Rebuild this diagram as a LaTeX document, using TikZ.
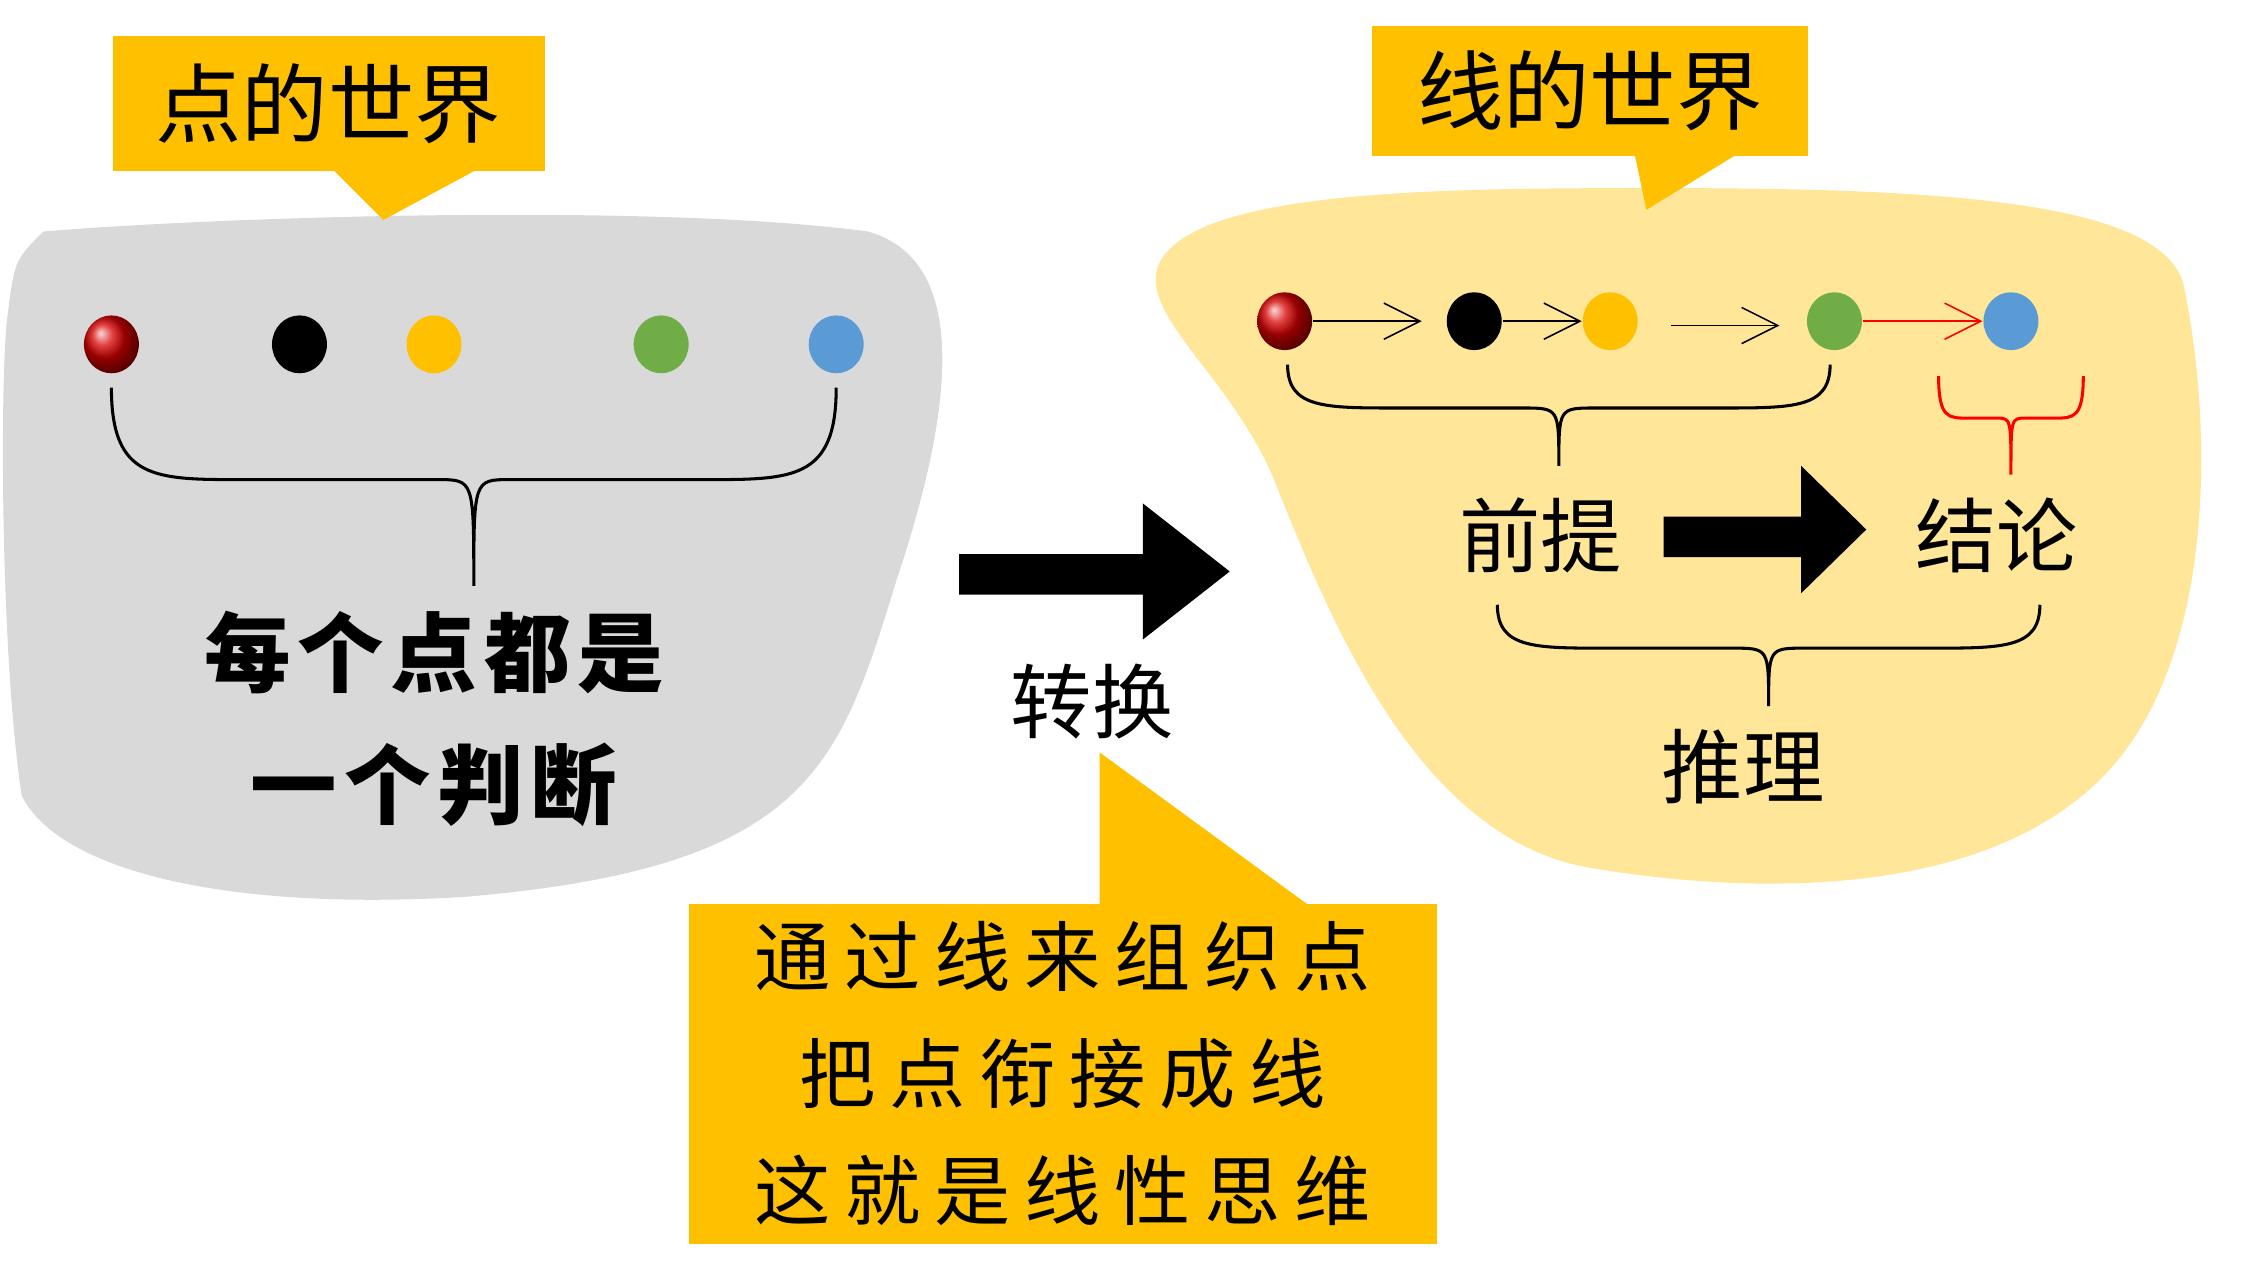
\documentclass[tikz,border=0pt]{standalone}
\usepackage{fontspec}
\setmainfont{Noto Sans CJK SC}
\newfontfamily\cjk{Noto Sans CJK SC}
\newfontfamily\cjkwide[LetterSpace=18]{Noto Sans CJK SC}
\newfontfamily\cjkbold[LetterSpace=8]{Noto Sans CJK SC}
\usetikzlibrary{positioning,arrows.meta,shapes.geometric}

\definecolor{callout}{RGB}{255,192,0}
\definecolor{blobgray}{RGB}{217,217,217}
\definecolor{blobyellow}{RGB}{255,230,153}
\definecolor{dotgreen}{RGB}{112,173,71}
\definecolor{dotblue}{RGB}{91,155,213}

\tikzset{
  dot/.style={ellipse,minimum width=0.38cm,minimum height=0.4cm,inner sep=0pt},
  bubble/.style={fill=callout,draw=none},
  bigtext/.style={font=\cjkbold\bfseries\fontsize{17}{26}\selectfont},
  midtext/.style={font=\cjk\fontsize{16}{20}\selectfont},
  thinarrow/.style={-{Straight Barb[length=2.5mm,width=2.5mm]},line width=0.3pt},
}

% curly brace: x-left, x-right, y-top, y-tip
\newcommand{\curly}[5][black]{
  \pgfmathsetmacro{\cx}{(#2+#3)/2}
  \pgfmathsetmacro{\my}{(#4+#5)/2+0.05}
  \pgfmathsetmacro{\arm}{min(0.9,(#3-#2)*0.2)}
  \pgfmathsetmacro{\tw}{min(0.25,(#3-#2)*0.1)}
  \draw[#1,line width=0.6pt] (#2,#4) .. controls (#2,\my) and ({#2+\arm/3},\my) .. ({#2+\arm},\my)
    -- ({\cx-\tw},\my) .. controls (\cx,\my) .. (\cx,#5)
    .. controls (\cx,\my) .. ({\cx+\tw},\my) -- ({#3-\arm},\my)
    .. controls ({#3-\arm/3},\my) and (#3,\my) .. (#3,#4);
}

\begin{document}
\begin{tikzpicture}
  \useasboundingbox (0,0) rectangle (15.58,-8.85);

  % Point world blob
  \fill[blobgray] (0.3,-1.6) .. controls (1.5,-1.5) and (4.5,-1.4) .. (6.0,-1.6)
    .. controls (6.7,-1.8) and (6.6,-2.8) .. (6.2,-4.0)
    .. controls (5.8,-5.3) and (5.6,-6.0) .. (3.2,-6.2)
    .. controls (1.5,-6.3) and (0.4,-6.0) .. (0.15,-5.5)
    .. controls (0.0,-4.5) and (0.0,-2.6) .. (0.05,-2.2)
    .. controls (0.1,-1.8) .. (0.3,-1.6) -- cycle;

  % Line world blob
  \fill[blobyellow] (8.0,-1.85) .. controls (8.2,-1.3) and (10,-1.3) .. (11.5,-1.3)
    .. controls (13.5,-1.3) and (15,-1.4) .. (15.1,-2.0)
    .. controls (15.3,-3.0) and (15.3,-4.5) .. (14.6,-5.3)
    .. controls (13.8,-6.2) and (12.2,-6.2) .. (11.0,-6.0)
    .. controls (9.8,-5.8) and (9.2,-4.3) .. (8.8,-3.3)
    .. controls (8.5,-2.6) and (7.9,-2.2) .. (8.0,-1.85) -- cycle;

  % callouts
  \fill[bubble] (0.78,-0.25) rectangle (3.77,-1.18);
  \fill[bubble] (2.3,-1.17) -- (2.65,-1.52) -- (3.3,-1.17) -- cycle;
  \node[font=\cjk\fontsize{17}{20}\selectfont] (ptworld) at (2.27,-0.72) {点的世界};
  \fill[bubble] (9.48,-0.18) rectangle (12.5,-1.08);
  \fill[bubble] (11.3,-1.07) -- (11.38,-1.45) -- (12.0,-1.07) -- cycle;
  \node[font=\cjk\fontsize{17}{20}\selectfont] (lnworld) at (10.99,-0.63) {线的世界};
  \fill[bubble] (4.76,-6.25) rectangle (9.93,-8.6);
  \fill[bubble] (7.6,-6.26) -- (7.6,-5.2) -- (9.05,-6.26) -- cycle;
  \node[align=center,font=\cjkwide\fontsize{15}{23}\selectfont] (note) at (7.345,-7.42)
    {通过线来组织点\\把点衔接成线\\这就是线性思维};

  % left dots
  \node[dot,ball color=red!85!black] (l1) at (0.77,-2.38) {};
  \node[dot,fill=black] (l2) at (2.07,-2.38) {};
  \node[dot,fill=callout] (l3) at (3.0,-2.38) {};
  \node[dot,fill=dotgreen] (l4) at (4.57,-2.38) {};
  \node[dot,fill=dotblue] (l5) at (5.78,-2.38) {};
  \curly{0.77}{5.78}{-2.68}{-4.05}
  \node[bigtext,align=center] (judge) at (3.0,-4.97) {每个点都是\\一个判断};

  % transform arrow
  \fill (6.63,-3.83) -- (7.9,-3.83) -- (7.9,-3.48) -- (8.5,-3.95) -- (7.9,-4.42)
    -- (7.9,-4.11) -- (6.63,-4.11) -- cycle;
  \node[midtext] (convert) at (7.55,-4.85) {转换};

  % right dots
  \node[dot,ball color=red!85!black] (r1) at (8.88,-2.22) {};
  \node[dot,fill=black] (r2) at (10.19,-2.22) {};
  \node[dot,fill=callout] (r3) at (11.13,-2.22) {};
  \node[dot,fill=dotgreen] (r4) at (12.68,-2.22) {};
  \node[dot,fill=dotblue] (r5) at (13.9,-2.22) {};
  \draw[thinarrow] (r1.east) -- ++(0.75,0);
  \draw[thinarrow] (r2.east) -- (r3.west);
  \coordinate (gap) at (11.55,-2.25);
  \draw[thinarrow] (gap) -- ++(0.75,0);
  \draw[thinarrow,red] (r4.east) -- (r5.west);
  \curly{8.9}{12.65}{-2.52}{-3.22}
  \curly[red]{13.4}{14.4}{-2.6}{-3.28}

  \node[midtext] (premise) at (10.65,-3.7) {前提};
  \node[midtext] (concl) at (13.8,-3.7) {结论};
  \fill (11.5,-3.57) -- (12.45,-3.57) -- (12.45,-3.22) -- (12.9,-3.66) -- (12.45,-4.1)
    -- (12.45,-3.85) -- (11.5,-3.85) -- cycle;
  \curly{10.35}{14.1}{-4.18}{-4.88}
  \node[midtext] (reason) at (12.05,-5.3) {推理};
\end{tikzpicture}
\end{document}
